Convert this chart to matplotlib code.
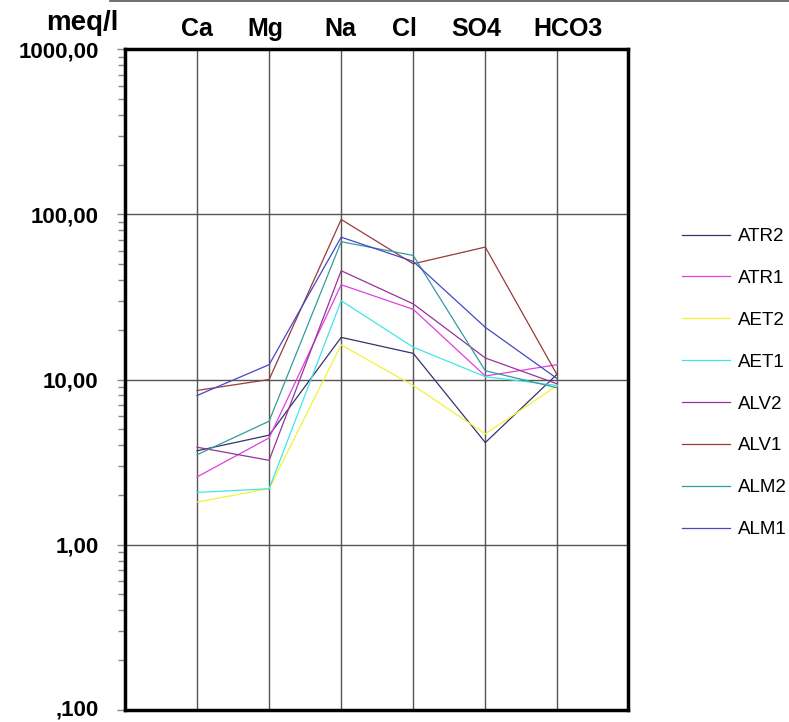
import matplotlib
matplotlib.use("Agg")
import matplotlib.pyplot as plt
from matplotlib.lines import Line2D
from matplotlib.transforms import ScaledTranslation
from matplotlib.ticker import FixedLocator, FixedFormatter, LogLocator, NullFormatter

plt.rcParams['font.family'] = ['Liberation Sans', 'DejaVu Sans']

categories = ['Ca', 'Mg', 'Na', 'Cl', 'SO4', 'HCO3']
ytick_values = [0.1, 1, 10, 100, 1000]
ytick_labels = [',100', '1,00', '10,00', '100,00', '1000,00']
y_unit = 'meq/l'

series_names = ['ATR2', 'ATR1', 'AET2', 'AET1', 'ALV2', 'ALV1', 'ALM2', 'ALM1']
ATR2 = [3.7, 4.6, 18.0, 14.4, 4.15, 10.8]
ATR1 = [2.57, 4.43, 37.5, 26.6, 10.5, 12.3]
AET2 = [1.81, 2.18, 16.2, 9.2, 4.69, 9.2]
AET1 = [2.07, 2.18, 30.0, 15.7, 10.4, 9.2]
ALV2 = [3.89, 3.24, 45.6, 28.7, 13.5, 9.4]
ALV1 = [8.58, 10.0, 93.2, 50.2, 63.4, 10.6]
ALM2 = [3.50, 5.59, 68.3, 56.4, 11.3, 8.9]
ALM1 = [8.0, 12.3, 72.8, 51.9, 20.7, 10.1]
series_values = [ATR2, ATR1, AET2, AET1, ALV2, ALV1, ALM2, ALM1]
colors = ['#34346e', '#e040e0', '#f2f23a', '#40e6e6', '#993399', '#9a3a3a', '#339c9c', '#4646c8']

fig = plt.figure(figsize=(7.89, 7.22), dpi=100)
ax = fig.add_axes([125/789, 1-709.7/722, 503/789, 660.4/722])

x = list(range(len(categories)))
for name, vals, c in zip(series_names, series_values, colors):
    ax.plot(x, vals, color=c, lw=0.9, label=name, zorder=3)

ax.set_yscale('log')
ax.set_ylim(0.1, 1000)
ax.set_xlim(-1.0, 5.98)

# gridlines
for xi in x:
    ax.axvline(xi, color='#555555', lw=1.0, zorder=1)
for yv in ytick_values[1:-1]:
    ax.axhline(yv, color='#555555', lw=1.0, zorder=1)

ax.yaxis.set_major_locator(FixedLocator(ytick_values))
ax.yaxis.set_major_formatter(FixedFormatter(ytick_labels))
ax.yaxis.set_minor_locator(LogLocator(base=10, subs=range(2, 10)))
ax.yaxis.set_minor_formatter(NullFormatter())
ax.tick_params(axis='y', which='major', direction='out', length=6, width=1, color='#888888',
               pad=13, labelsize=16)
ax.tick_params(axis='y', which='minor', direction='out', length=5, width=1, color='#888888')
for lab in ax.get_yticklabels():
    lab.set_fontweight('bold')
# nudge lowest label up slightly so it stays inside the canvas
ylabs = ax.get_yticklabels()
ylabs[0].set_transform(ylabs[0].get_transform() + ScaledTranslation(0, 2/100, fig.dpi_scale_trans))

ax.xaxis.tick_top()
ax.set_xticks(x)
ax.set_xticklabels(categories, fontsize=18, fontweight='bold')
ax.tick_params(axis='x', which='both', length=0, pad=6)
x_offsets_px = [0, -4, -1, -9, -9, 11]
for lab, dx in zip(ax.get_xticklabels(), x_offsets_px):
    lab.set_transform(lab.get_transform() + ScaledTranslation(dx/100, 0, fig.dpi_scale_trans))

for s in ax.spines.values():
    s.set_linewidth(2.5)
    s.set_color('black')

fig.text(82/789, 1-23/722, y_unit, fontsize=20, fontweight='bold', ha='center', va='center')

# top border line from source
fig.add_artist(Line2D([110/789, 1.0], [1-1/722, 1-1/722], color='#555555', lw=1.2))

fig.legend(loc='upper left', bbox_to_anchor=(682/789, 1-228/722), frameon=False,
           fontsize=13.5, handlelength=2.55, handletextpad=0.42, labelspacing=1.32,
           borderpad=0, borderaxespad=0)

fig.savefig('out.png', dpi=100)
